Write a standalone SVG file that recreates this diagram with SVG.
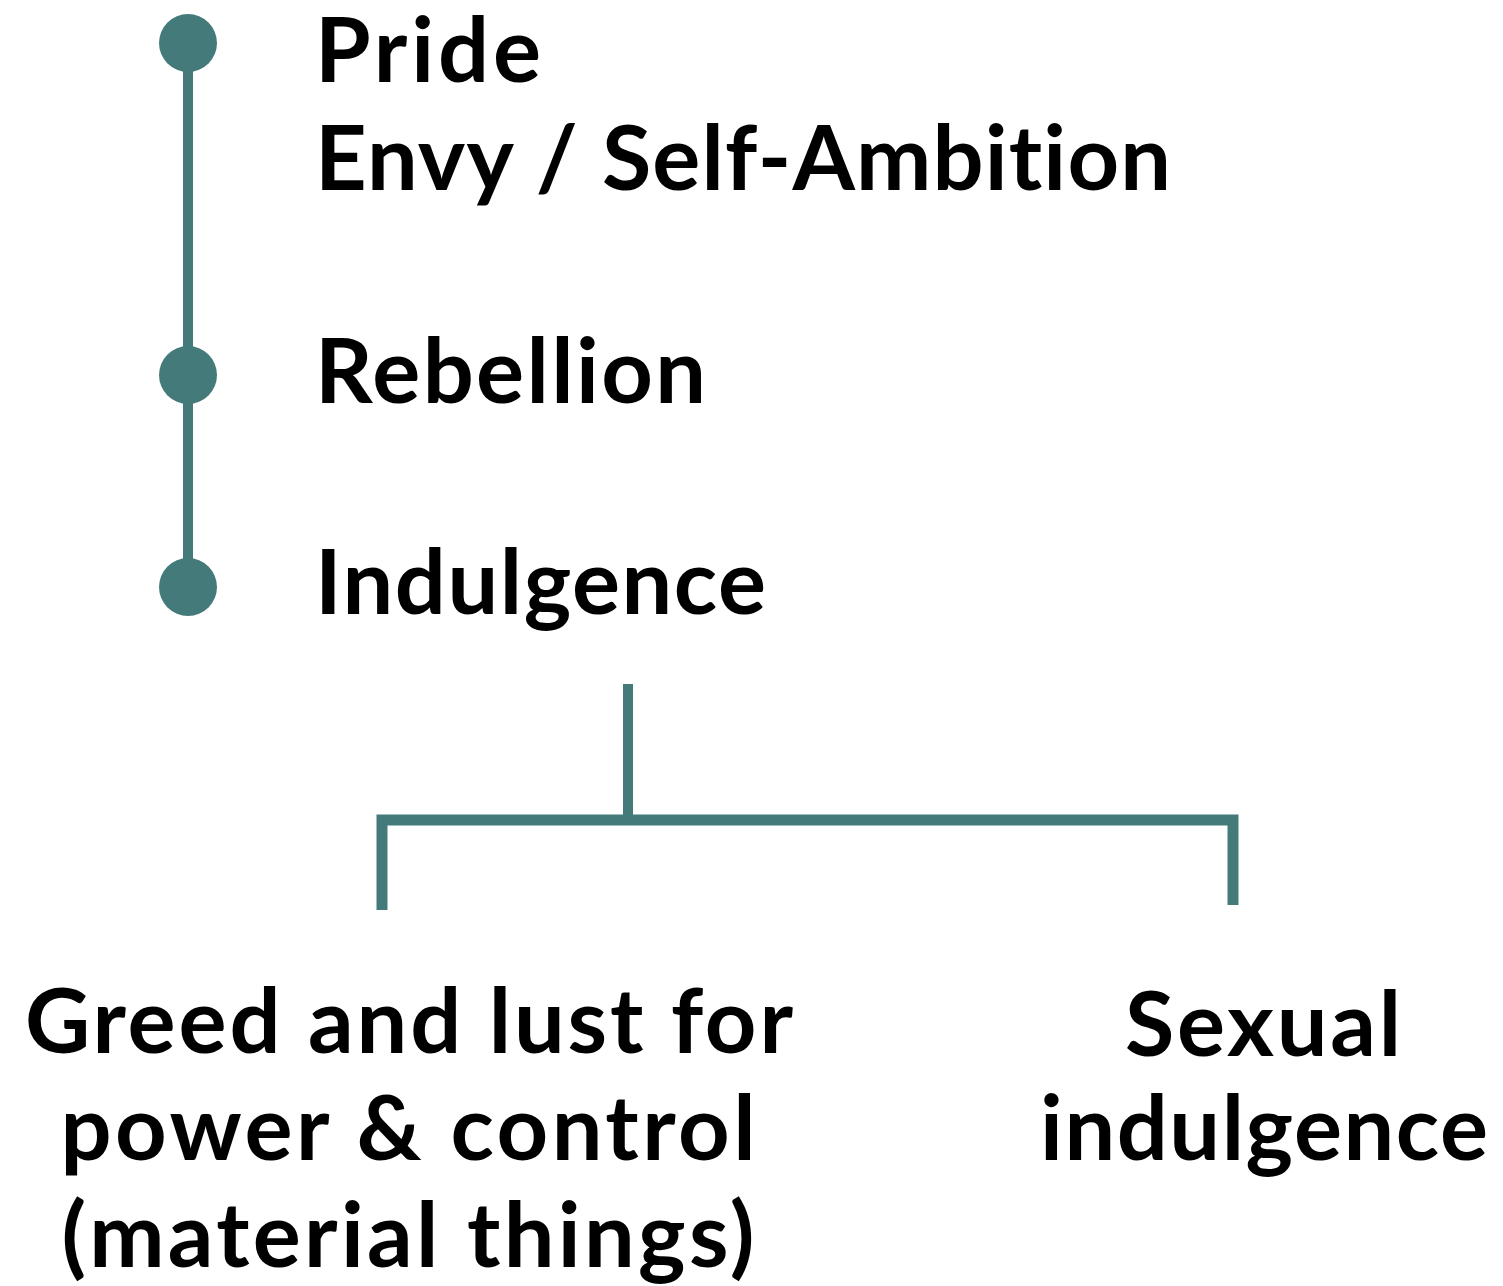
<svg xmlns="http://www.w3.org/2000/svg" width="1503" height="1286" viewBox="0 0 1503 1286">
<style>
.t{font-family:Lato,"Open Sans","Liberation Sans",sans-serif;font-weight:700;font-size:90px;fill:#000;font-variant-ligatures:none}
.m{text-anchor:middle}
.ln{stroke:#447a7a;fill:none}
.dot{fill:#447a7a}
</style>
<rect width="1503" height="1286" fill="#fff"/>
<g id="connectors">
<line class="ln" x1="188" y1="43" x2="188" y2="587" stroke-width="10"/>
<line class="ln" x1="628" y1="684" x2="628" y2="820" stroke-width="10"/>
<polyline class="ln" points="382,910 382,820 1233,820 1233,905" stroke-width="11"/>
</g>
<g id="pride"><circle class="dot" cx="188" cy="43" r="29"/><text class="t" x="315" y="82" textLength="226">Pride</text><text class="t" x="315" y="190" textLength="856">Envy / Self-Ambition</text></g>
<g id="rebellion"><circle class="dot" cx="188" cy="375" r="29"/><text class="t" x="315" y="403" textLength="391">Rebellion</text></g>
<g id="indulgence"><circle class="dot" cx="188" cy="587" r="29"/><text class="t" x="315" y="614" textLength="451">Indulgence</text></g>
<g id="greed"><text class="t m" x="409" y="1053" textLength="768">Greed and lust for</text><text class="t m" x="408" y="1160" textLength="695">power &amp; control</text><text class="t m" x="408" y="1267" textLength="693">(material things)</text></g>
<g id="sexual"><text class="t m" x="1263" y="1056" textLength="276">Sexual</text><text class="t m" x="1264" y="1160" textLength="448">indulgence</text></g>
</svg>
